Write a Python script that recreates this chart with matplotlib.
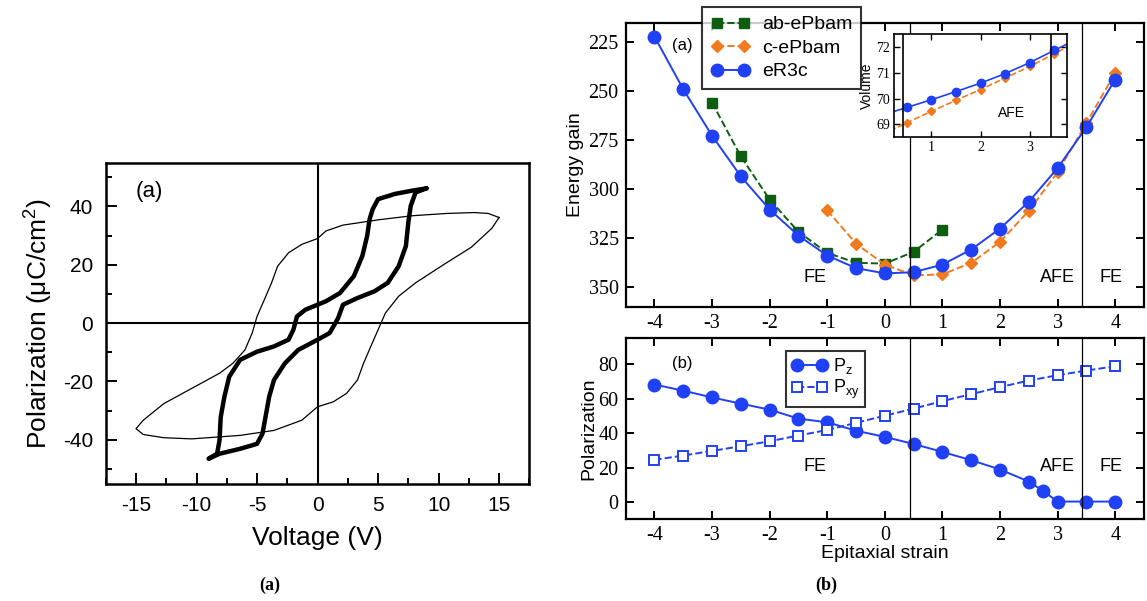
import numpy as np
import matplotlib
matplotlib.use("Agg")
import matplotlib.pyplot as plt

# ------------------------------------------------------------
# data
# ------------------------------------------------------------

# (a) hysteresis loops, voltage (V) vs polarization (uC/cm2)
thin_v = [15.0, 14.1, 12.95, 10.7, 7.8, 5.0, 2.1, 0.7, 0.0, -1.3, -2.4, -3.3,
          -3.8, -4.4, -5.0, -5.4, -6.0, -7.0, -8.1, -10.4, -12.7, -14.4, -15.0,
          -14.4, -12.7, -10.4, -6.4, -3.6, -1.3, 0.0, 1.3, 2.4, 3.3, 3.8, 4.4,
          5.0, 5.6, 6.7, 8.1, 10.4, 12.7, 14.4, 15.0]
thin_p = [36.2, 37.6, 37.9, 37.6, 36.8, 35.4, 33.6, 31.6, 29.0, 27.0, 24.1, 19.5,
          13.8, 8.0, 2.3, -3.4, -9.2, -13.8, -17.2, -22.4, -27.6, -33.3, -36.2,
          -38.2, -39.3, -39.7, -38.5, -36.8, -33.3, -28.7, -27.0, -24.1, -19.5,
          -13.8, -8.0, -2.3, 3.4, 9.2, 13.8, 20.0, 26.0, 32.5, 36.2]

thick_v = [9.0, 7.8, 6.4, 5.0, 4.55, 4.3, 4.1, 3.7, 3.0, 1.85, 0.7, 0.0, -1.0,
           -1.7, -2.0, -2.4, -3.6, -5.0, -6.4, -7.3, -7.7, -8.0, -8.1, -8.3, -9.0,
           -8.1, -6.4, -5.0, -4.55, -4.3, -4.0, -3.6, -2.7, -1.6, 0.0, 1.0, 1.7,
           2.1, 3.3, 4.7, 5.8, 6.7, 7.3, 7.5, 7.7, 8.1, 9.0]
thick_p = [46.2, 45.4, 44.3, 42.5, 39.0, 35.6, 29.9, 23.0, 16.1, 10.3, 7.5, 6.3,
           4.6, 2.3, -2.3, -5.7, -8.0, -9.8, -12.6, -18.4, -25.3, -32.2, -40.2,
           -44.8, -46.5, -44.8, -43.1, -41.4, -37.9, -32.2, -25.3, -19.5, -13.8,
           -9.2, -5.7, -3.4, 1.7, 6.3, 8.6, 10.9, 13.8, 19.5, 26.4, 34.5, 40.2,
           44.8, 46.2]

# (b) energy gain vs epitaxial strain
strain = [-4, -3.5, -3, -2.5, -2, -1.5, -1, -0.5, 0, 0.5, 1, 1.5, 2, 2.5, 3, 3.5, 4]
e_r3c = [222.1, 249.0, 272.7, 293.5, 310.4, 323.7, 333.9, 340.3, 343.0, 342.4,
         338.5, 330.8, 320.1, 306.4, 289.2, 268.3, 244.0]

ab_strain = [-3, -2.5, -2, -1.5, -1, -0.5, 0, 0.5, 1]
e_ab = [255.8, 283.3, 305.3, 321.8, 332.5, 337.6, 338.0, 332.0, 320.6]

c_strain = [-1, -0.5, 0, 0.5, 1, 1.5, 2, 2.5, 3, 3.5, 4]
e_c = [310.8, 327.8, 338.5, 344.0, 343.5, 337.6, 326.9, 311.0, 291.4, 266.3, 240.5]

# inset: volume
vol_strain = [0, 0.5, 1, 1.5, 2, 2.5, 3, 3.5, 4]
vol_r3c = [69.35, 69.65, 69.95, 70.27, 70.6, 70.97, 71.4, 71.88, 72.35]
vol_c = [68.6, 69.05, 69.5, 69.93, 70.35, 70.8, 71.25, 71.75, 72.25]

# polarization vs strain
pz_strain = [-4, -3.5, -3, -2.5, -2, -1.5, -1, -0.5, 0, 0.5, 1, 1.5, 2, 2.5,
             2.75, 3, 3.5, 4]
pz = [68.2, 64.6, 60.7, 57.1, 53.6, 48.4, 46.3, 41.4, 37.8, 33.7, 29.1, 24.3,
      18.9, 11.9, 6.4, 0.3, 0.3, 0.3]
pxy = [24.5, 27.0, 29.7, 32.4, 35.3, 38.6, 41.8, 46.0, 50.1, 54.2, 58.6, 62.6,
       66.7, 70.5, 73.6, 76.3, 78.8]

boundaries = [0.43, 3.43]

# ------------------------------------------------------------
SANS = ["Liberation Sans", "DejaVu Sans"]
SERIF = ["Liberation Serif", "DejaVu Serif"]
BLUE = "#2040f5"
GREEN = "#0d5e10"
ORANGE = "#f07a1e"

plt.rcParams["font.family"] = SANS
plt.rcParams["mathtext.default"] = "regular"
plt.rcParams["axes.unicode_minus"] = False

fig = plt.figure(figsize=(11.47, 6.01), dpi=100)

# ---------------- left subfigure -----------------------------
axL = fig.add_axes([0.0922, 0.1955, 0.3693, 0.5338])
axL.plot(thin_v, thin_p, color="black", lw=0.9)
axL.plot(thick_v, thick_p, color="black", lw=3.2, solid_capstyle="round",
         solid_joinstyle="round")
axL.axhline(0, color="black", lw=1.5)
axL.axvline(0, color="black", lw=1.5)
axL.set_xlim(-17.5, 17.5)
axL.set_ylim(-55, 55)
axL.set_xticks([-15, -10, -5, 0, 5, 10, 15])
axL.set_xticks(np.arange(-17.5, 17.6, 2.5), minor=True)
axL.set_yticks([-40, -20, 0, 20, 40])
axL.set_yticks([-50, -30, -10, 10, 30, 50], minor=True)
axL.tick_params(which="both", direction="in", width=1.4, labelsize=15)
axL.tick_params(which="major", length=8, pad=9)
axL.tick_params(which="minor", length=4)
for s in axL.spines.values():
    s.set_linewidth(1.8)
axL.text(-13.9, 45, "(a)", fontsize=16, ha="center", va="center")
axL.set_xlabel("Voltage (V)", fontsize=19, labelpad=8)
axL.set_ylabel("Polarization (μC/cm$^2$)", fontsize=19, labelpad=6)

# ---------------- right subfigure: energy --------------------
axT = fig.add_axes([0.5455, 0.4897, 0.4519, 0.4725])
axT.plot(ab_strain, e_ab, ls="--", color=GREEN, marker="s", ms=7.5, lw=1.4,
         label="ab-ePbam")
axT.plot(c_strain, e_c, ls="--", color=ORANGE, marker="D", ms=6, lw=1.4,
         label="c-ePbam")
axT.plot(strain, e_r3c, ls="-", color=BLUE, marker="o", ms=9, lw=1.4,
         label="eR3c")
for b in boundaries:
    axT.axvline(b, color="black", lw=0.9)
axT.set_xlim(-4.5, 4.5)
axT.set_ylim(360, 215)
axT.set_xticks(range(-4, 5))
axT.set_yticks([225, 250, 275, 300, 325, 350])
axT.set_ylabel("Energy gain", fontsize=14, labelpad=3)
axT.text(-3.52, 226.5, "(a)", fontsize=12, ha="center", va="center")
axT.text(-1.22, 345.2, "FE", fontsize=13, ha="center", va="center")
axT.text(2.99, 345.2, "AFE", fontsize=13, ha="center", va="center")
axT.text(3.92, 345.2, "FE", fontsize=13, ha="center", va="center")
legT = axT.legend(loc="upper left", bbox_to_anchor=(0.148, 1.055),
                  numpoints=2, fontsize=14, frameon=True, fancybox=False,
                  borderaxespad=0, handlelength=2.0, handletextpad=0.6,
                  labelspacing=0.3, borderpad=0.45)
legT.get_frame().set_edgecolor("black")
legT.get_frame().set_linewidth(1.5)

# inset: volume
axI = fig.add_axes([0.7797, 0.772, 0.1508, 0.1709])
axI.plot(vol_strain, vol_c, ls="--", color=ORANGE, marker="D", ms=4, lw=1.2)
axI.plot(vol_strain, vol_r3c, ls="-", color=BLUE, marker="o", ms=6, lw=1.2)
for b in boundaries:
    axI.axvline(b, color="black", lw=1.2)
axI.set_xlim(0.25, 3.76)
axI.set_ylim(68.5, 72.5)
axI.set_xticks([1, 2, 3])
axI.set_yticks([69, 70, 71, 72])
axI.set_ylabel("Volume", fontsize=10, labelpad=2)
axI.text(2.63, 69.45, "AFE", fontsize=10, ha="center", va="center")
axI.tick_params(direction="in", top=True, right=True, length=4, width=1,
                labelsize=10, pad=3)
for lab in axI.get_xticklabels() + axI.get_yticklabels():
    lab.set_family(SERIF)
for s in axI.spines.values():
    s.set_linewidth(1.2)

# ---------------- right subfigure: polarization --------------
axB = fig.add_axes([0.5455, 0.1359, 0.4519, 0.3012])
axB.plot(pz_strain, pz, ls="-", color=BLUE, marker="o", ms=9, lw=1.4,
         label="P$_z$")
axB.plot(strain, pxy, ls="--", color=BLUE, marker="s", ms=7, lw=1.4,
         mfc="white", mec=BLUE, mew=1.4, label="P$_{xy}$")
for b in boundaries:
    axB.axvline(b, color="black", lw=0.9)
axB.set_xlim(-4.5, 4.5)
axB.set_ylim(-10, 95)
axB.set_xticks(range(-4, 5))
axB.set_yticks([0, 20, 40, 60, 80])
axB.set_ylabel("Polarization", fontsize=14, labelpad=1)
axB.set_xlabel("Epitaxial strain", fontsize=14, labelpad=0)
axB.text(-3.52, 80.4, "(b)", fontsize=12, ha="center", va="center")
axB.text(-1.22, 20.6, "FE", fontsize=13, ha="center", va="center")
axB.text(2.99, 20.6, "AFE", fontsize=13, ha="center", va="center")
axB.text(3.92, 20.6, "FE", fontsize=13, ha="center", va="center")
legB = axB.legend(loc="upper left", bbox_to_anchor=(0.309, 0.930),
                  numpoints=2, fontsize=13, frameon=True, fancybox=False,
                  borderaxespad=0, handlelength=2.0, handletextpad=0.3,
                  labelspacing=0.1, borderpad=0.3)
legB.get_frame().set_edgecolor("black")
legB.get_frame().set_linewidth(1.5)

for ax in (axT, axB):
    ax.tick_params(direction="in", top=True, right=True, length=6, width=1.4,
                   labelsize=14.5, pad=5)
    for lab in ax.get_xticklabels() + ax.get_yticklabels():
        lab.set_family(SERIF)
    for s in ax.spines.values():
        s.set_linewidth(1.6)

# captions
fig.text(0.2354, 0.0266, "(a)", fontsize=13, fontweight="bold", family=SERIF,
         ha="center", va="center")
fig.text(0.720, 0.0266, "(b)", fontsize=13, fontweight="bold", family=SERIF,
         ha="center", va="center")

fig.savefig("out.png", dpi=100)
